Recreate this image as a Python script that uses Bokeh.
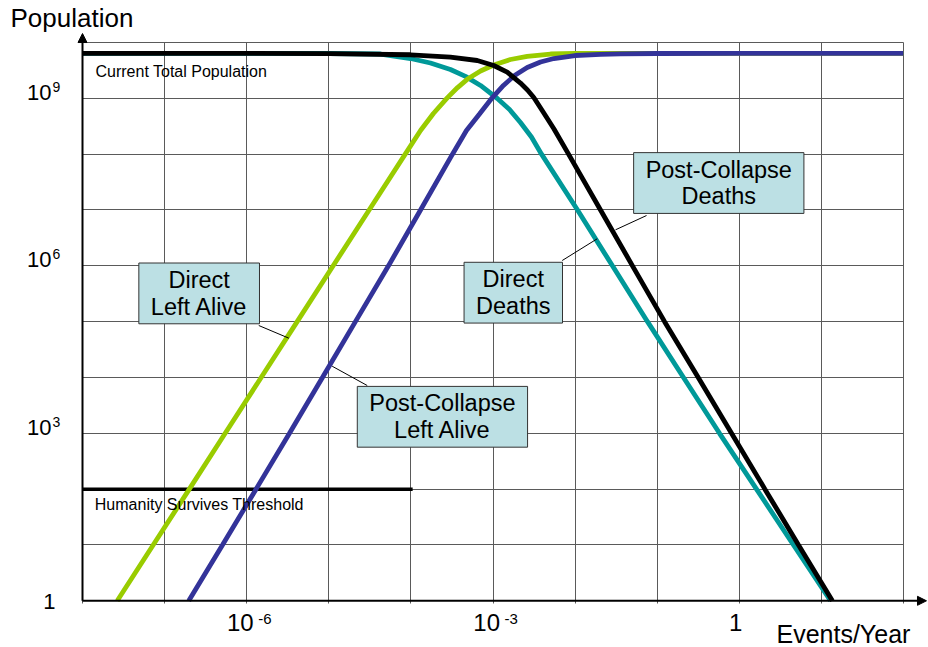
from bokeh.plotting import figure
from bokeh.models import (FixedTicker, Label, LabelSet, ColumnDataSource, Arrow,
                          NormalHead, Range1d)
from bokeh.core.properties import value
from bokeh.embed import file_html
from bokeh.resources import INLINE

# ---------------- data ----------------
total_population = 6.4e9
threshold_value = 100
threshold_x = [1e-8, 1.05e-4]

x_decades = [1e-8, 1e-7, 1e-6, 1e-5, 1e-4, 1e-3, 1e-2, 1e-1, 1, 10, 100]
y_decades = [1, 1e1, 1e2, 1e3, 1e4, 1e5, 1e6, 1e7, 1e8, 1e9, 1e10]

x_tick_values = [1e-6, 1e-3, 1]
x_tick_labels = ["10", "10", "1"]
x_tick_exponents = ["-6", "-3", ""]
y_tick_values = [1, 1e3, 1e6, 1e9]
y_tick_labels = ["1", "10", "10", "10"]
y_tick_exponents = ["", "3", "6", "9"]

# Direct Left Alive (green)
green_x = [2.65e-8, 7.26e-8, 2.0e-7, 5.47e-7, 1.50e-6, 4.12e-6, 1.13e-5, 3.10e-5, 8.53e-5,
           1.31e-4, 1.88e-4, 2.77e-4, 3.70e-4, 4.85e-4, 7.05e-4, 1.02e-3, 1.63e-3, 2.61e-3,
           5.01e-3, 1.0e-2, 1e-1, 1, 10, 100]
green_y = [1, 1e1, 1e2, 1e3, 1e4, 1e5, 1e6, 1e7, 1e8,
           2.65e8, 5.35e8, 1.02e9, 1.56e9, 2.19e9, 3.09e9, 3.96e9, 4.96e9, 5.66e9,
           6.22e9, 6.4e9, 6.4e9, 6.4e9, 6.4e9, 6.4e9]

# Post-Collapse Left Alive (blue)
blue_x = [1.97e-7, 5.07e-7, 1.30e-6, 3.32e-6, 8.37e-6, 2.11e-5, 5.33e-5, 1.31e-4, 3.21e-4,
          4.75e-4, 6.85e-4, 9.77e-4, 1.34e-3, 1.83e-3, 2.61e-3, 3.79e-3, 5.51e-3, 1.0e-2,
          2.04e-2, 3.57e-2, 1e-1, 1, 10, 100]
blue_y = [1, 1e1, 1e2, 1e3, 1e4, 1e5, 1e6, 1e7, 1e8,
          2.65e8, 5.24e8, 1.02e9, 1.70e9, 2.56e9, 3.57e9, 4.48e9, 5.17e9, 5.85e9,
          6.15e9, 6.28e9, 6.35e9, 6.4e9, 6.4e9, 6.4e9]

# Direct Deaths (teal)
teal_x = [1e-8, 1e-6, 1e-5, 4.27e-5, 9.89e-5, 1.73e-4, 3.03e-4, 4.62e-4, 7.05e-4, 1.13e-3,
          1.59e-3, 2.16e-3, 2.94e-3, 3.90e-3, 1.07e-2, 2.85e-2, 7.62e-2, 0.209, 0.574, 1.62,
          4.57, 12.9]
teal_y = [6.4e9, 6.4e9, 6.35e9, 6.22e9, 5.17e9, 4.29e9, 3.29e9, 2.47e9, 1.70e9, 9.93e8,
          6.31e8, 3.69e8, 2.03e8, 1e8, 1e7, 1e6, 1e5, 1e4, 1e3, 1e2,
          1e1, 1]

# Post-Collapse Deaths (black)
black_x = [1e-8, 1e-6, 1e-5, 9.89e-5, 3.03e-4, 6.43e-4, 1.02e-3, 1.49e-3, 2.16e-3, 2.63e-3,
           3.14e-3, 4.12e-3, 5.51e-3, 8.32e-3, 2.04e-2, 5.00e-2, 0.123, 0.316, 0.804, 2.05,
           5.26, 13.6]
black_y = [6.4e9, 6.4e9, 6.3e9, 6.03e9, 5.46e9, 4.76e9, 3.87e9, 2.94e9, 1.88e9, 1.41e9,
           1.035e9, 5.57e8, 2.85e8, 1e8, 1e7, 1e6, 1e5, 1e4, 1e3, 1e2, 1e1, 1]

# ---------------- figure (frame covers the whole canvas) ----------------
FONT = "Liberation Sans"
p = figure(width=928, height=647, x_axis_type="log", y_axis_type="log",
           x_axis_location=None, y_axis_location=None,
           x_range=Range1d(10 ** -8.9988, 10 ** 2.3045),
           y_range=Range1d(10 ** -0.8365, 10 ** 10.7524),
           output_backend="svg", toolbar_location=None,
           min_border_left=0, min_border_right=0, min_border_top=0, min_border_bottom=0)
p.outline_line_color = None
p.background_fill_color = "white"
p.border_fill_color = "white"

p.xgrid.ticker = FixedTicker(ticks=x_decades)
p.ygrid.ticker = FixedTicker(ticks=y_decades)
p.xgrid.grid_line_color = "#5a5a5a"
p.ygrid.grid_line_color = "#5a5a5a"
p.xgrid.grid_line_width = 1
p.ygrid.grid_line_width = 1
p.xgrid.cross_bounds = (10 ** -0.05, y_decades[-1])
p.ygrid.cross_bounds = (x_decades[0], x_decades[-1])

# axis lines with arrow heads
p.add_layout(Arrow(end=NormalHead(size=9, fill_color="black", line_color="black", line_width=1),
                   x_start=x_decades[0], y_start=y_decades[0], x_end=10 ** 2.28, y_end=y_decades[0],
                   line_color="black", line_width=2))
p.add_layout(Arrow(end=NormalHead(size=9, fill_color="black", line_color="black", line_width=1),
                   x_start=x_decades[0], y_start=y_decades[0], x_end=x_decades[0], y_end=10 ** 10.161,
                   line_color="black", line_width=2))

# ---------------- series ----------------
p.line(threshold_x, [threshold_value] * len(threshold_x), line_color="black", line_width=3.5)
p.line(teal_x, teal_y, line_color="#009999", line_width=4.8)
p.line(green_x, green_y, line_color="#99CC00", line_width=4.8)
p.line(blue_x, blue_y, line_color="#333399", line_width=4.8)
p.line(black_x, black_y, line_color="black", line_width=4.8)

# ---------------- texts ----------------
def plain(x, y, text, size, dy):
    return Label(x=x, y=y, text=text, y_offset=dy, text_font=FONT,
                 text_font_size=f"{size}px", text_color="black",
                 text_align="left", text_baseline="alphabetic")

p.add_layout(plain(10 ** -7.842, 10 ** 9.409, "Current Total Population", 16, 4))
p.add_layout(plain(10 ** -7.85, 10 ** 1.659, "Humanity Survives Threshold", 16, 4))
p.add_layout(plain(10 ** -8.877, 10 ** 10.335, "Population", 26, 6))
p.add_layout(plain(10 ** 0.453, 10 ** -0.7415, "Events/Year", 25, 8))

# tick labels (base + superscript)
xsrc = ColumnDataSource(dict(x=x_tick_values, y=[y_decades[0]] * len(x_tick_values),
                             base=x_tick_labels, exp=x_tick_exponents,
                             xo=[7 if t == "10" else 3 for t in x_tick_labels]))
p.add_layout(LabelSet(x="x", y="y", text="base", source=xsrc, x_offset="xo", y_offset=-30,
                      text_font=value(FONT), text_font_size=value("24px"), text_align="right",
                      text_baseline="alphabetic", text_color="black"))
p.add_layout(LabelSet(x="x", y="y", text="exp", source=xsrc, x_offset=11.5, y_offset=-23.5,
                      text_font=value(FONT), text_font_size=value("15px"), text_align="left",
                      text_baseline="alphabetic", text_color="black"))

ysrc = ColumnDataSource(dict(x=[x_decades[0]] * len(y_tick_values), y=y_tick_values,
                             base=y_tick_labels, exp=y_tick_exponents,
                             xo=[-31 if t == "10" else -27 for t in y_tick_labels],
                             yo=[-1.5 if t == "10" else -8.5 for t in y_tick_labels]))
p.add_layout(LabelSet(x="x", y="y", text="base", source=ysrc, x_offset="xo", y_offset="yo",
                      text_font=value(FONT), text_font_size=value("22px"), text_align="right",
                      text_baseline="alphabetic", text_color="black"))
p.add_layout(LabelSet(x="x", y="y", text="exp", source=ysrc, x_offset=-30, y_offset=6.5,
                      text_font=value(FONT), text_font_size=value("14px"), text_align="left",
                      text_baseline="alphabetic", text_color="black"))

# callout boxes with leader lines
box_style = dict(text_font=FONT, text_font_size="23.5px", text_color="black",
                 text_align="center", text_baseline="middle", text_line_height=1.03,
                 background_fill_color="#BCE0E4", border_line_color="#333333",
                 border_line_width=1, padding=(12, 4))
p.segment(x0=[10 ** -5.853, 10 ** -4.532, 10 ** -2.157, 10 ** -1.130],
          y0=[10 ** 4.931, 10 ** 3.856, 10 ** 6.095, 10 ** 6.901],
          x1=[10 ** -5.487, 10 ** -4.959, 10 ** -1.731, 10 ** -1.508],
          y1=[10 ** 4.704, 10 ** 4.202, 10 ** 6.484, 10 ** 6.645],
          line_color="black", line_width=1)
p.add_layout(Label(x=10 ** -6.579, y=10 ** 5.506, text="Direct\nLeft Alive", **box_style))
p.add_layout(Label(x=10 ** -3.616, y=10 ** 3.296, text="Post-Collapse\nLeft Alive", **box_style))
p.add_layout(Label(x=10 ** -2.753, y=10 ** 5.519, text="Direct\nDeaths", **box_style))
p.add_layout(Label(x=10 ** -0.250, y=10 ** 7.483, text="Post-Collapse\nDeaths", **box_style))

open("out.html", "w").write(file_html(p, INLINE))
